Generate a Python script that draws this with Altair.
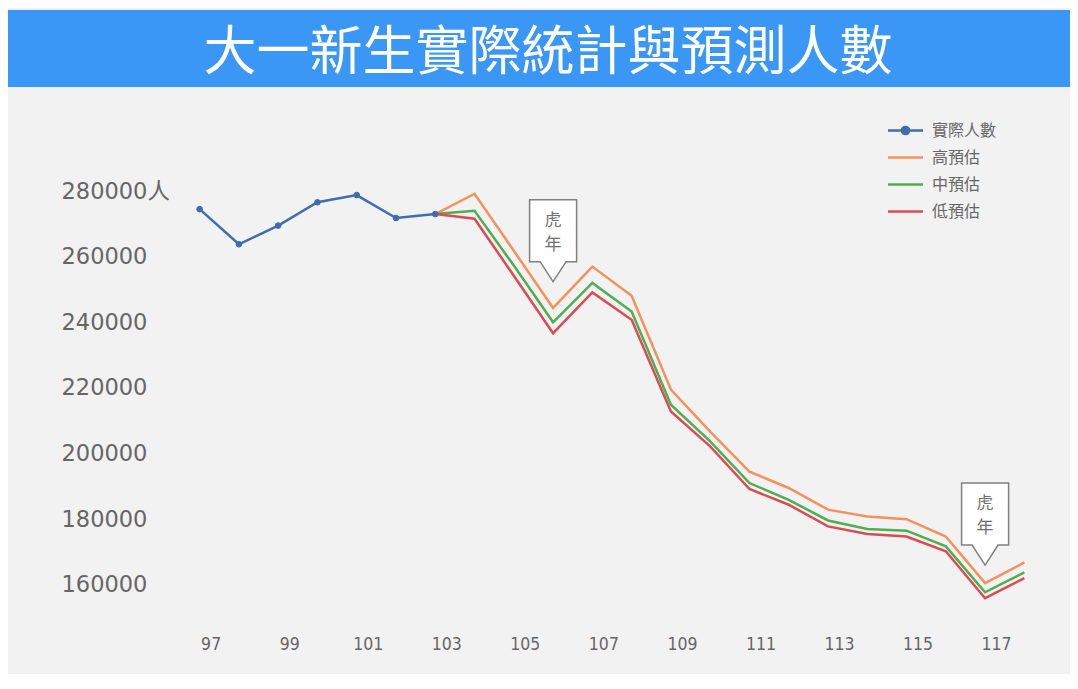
import altair as alt
import pandas as pd

TITLE = "大一新生實際統計與預測人數"
SERIES = ["實際人數", "高預估", "中預估", "低預估"]
COLORS = ["#3E6EB0", "#F5915A", "#4DAF4E", "#DC4B55"]

years_actual = [97, 98, 99, 100, 101, 102, 103]
actual = [274500, 263800, 269500, 276600, 278800, 271800, 273000]

years_fc = [103, 104, 105, 106, 107, 108, 109, 110, 111, 112, 113, 114, 115, 116, 117, 118]
high = [273000, 279200, 261800, 244400, 257000, 248100, 219500, 206700, 194500, 189500, 182900, 180800, 180000, 174700, 160500, 166800]
mid = [273000, 274000, 257300, 240000, 252000, 243300, 214900, 203700, 191000, 185900, 179600, 177000, 176500, 171700, 157700, 163800]
low = [273000, 271600, 254200, 236700, 249100, 240800, 212800, 202200, 189200, 184400, 177800, 175500, 174700, 170200, 155900, 162000]

y_ticks = [160000, 180000, 200000, 220000, 240000, 260000, 280000]
x_ticks = [97, 99, 101, 103, 105, 107, 109, 111, 113, 115, 117]

tiger_year = [106, 117]
tiger_value = [252400, 166000]
tiger_text = ["虎", "年"]

rows = []
for yr, v in zip(years_actual, actual):
    rows.append({"year": yr, "value": v, "series": SERIES[0]})
for name, vals in zip(SERIES[1:], [high, mid, low]):
    for yr, v in zip(years_fc, vals):
        rows.append({"year": yr, "value": v, "series": name})
df = pd.DataFrame(rows)
df_act = pd.DataFrame({"year": years_actual, "value": actual, "series": [SERIES[0]] * len(actual)})
df_tiger = pd.DataFrame({"year": tiger_year, "value": tiger_value})
df_title = pd.DataFrame({"title": [TITLE]})

x_scale = alt.Scale(domain=[96.5, 118.5], nice=False, zero=False)
y_scale = alt.Scale(domain=[152000, 284000], nice=False, zero=False)
x_axis = alt.Axis(values=x_ticks, format="d", title=None, grid=False, domain=False, ticks=False,
                  labelFont="Liberation Sans Narrow, DejaVu Sans Condensed, sans-serif",
                  labelFontSize=17.5, labelColor="#666666", labelPadding=24, labelOffset=11)
y_axis = alt.Axis(values=y_ticks, format="d", title=None, grid=False, domain=False, ticks=False,
                  labelExpr="datum.value == 280000 ? datum.label + '人' : datum.label",
                  labelAlign="left", labelBaseline="middle", labelPadding=119,
                  labelFont="DejaVu Sans, Noto Sans CJK TC", labelFontSize=22.5, labelColor="#666666")

X = alt.X("year:Q", scale=x_scale, axis=x_axis)
Y = alt.Y("value:Q", scale=y_scale, axis=y_axis)

PATH_LINE = "M-1.46,0L1.46,0"
PATH_DOT = "M-1.46,0L1.46,0M-0.3,0A0.3,0.3,0,1,0,0.3,0A0.3,0.3,0,1,0,-0.3,0Z"
CALLOUT = "M0,0L-1.3,-2L-2.35,-2L-2.35,-8.2L2.35,-8.2L2.35,-2L1.3,-2Z"

common_legend = dict(
    title=None, orient="none", legendX=712, symbolSize=576, symbolStrokeWidth=2.5,
    labelFont="Noto Sans CJK TC", labelFontSize=16, labelColor="#666666",
    labelOffset=13, padding=0,
)
legend_fc = alt.Legend(values=SERIES[1:], legendY=-34, rowPadding=5, symbolType=PATH_LINE, **common_legend)
legend_act = alt.Legend(legendY=-61, rowPadding=0, symbolType=PATH_DOT, **common_legend)

banner = alt.Chart(df_title).mark_rect(color="#3A97F5").encode(
    x=alt.value(-172), x2=alt.value(890), y=alt.value(-168), y2=alt.value(-91)
)
title = alt.Chart(df_title).mark_text(
    font="Noto Sans CJK TC", fontSize=53, color="white", align="center", baseline="middle"
).encode(x=alt.value(368), y=alt.value(-124), text="title:N")

lines = alt.Chart(df).mark_line(strokeWidth=2.5).encode(
    x=X, y=Y,
    color=alt.Color("series:N", scale=alt.Scale(domain=SERIES, range=COLORS), legend=legend_fc),
)
points = alt.Chart(df_act).mark_point(
    filled=True, size=32, stroke=COLORS[0], strokeWidth=1, opacity=1
).encode(
    x=X, y=Y,
    fill=alt.Fill("series:N", scale=alt.Scale(domain=SERIES[:1], range=COLORS[:1]), legend=legend_act),
)

callout = alt.Chart(df_tiger).mark_point(
    shape=CALLOUT, size=400, filled=True, fill="white", stroke="#808080", strokeWidth=1.5, opacity=1
).encode(x=X, y=Y)
c1 = alt.Chart(df_tiger).mark_text(text=tiger_text[0], dy=-61, font="Noto Sans CJK TC", fontSize=17,
                                   color="#707070", baseline="middle").encode(x=X, y=Y)
c2 = alt.Chart(df_tiger).mark_text(text=tiger_text[1], dy=-37, font="Noto Sans CJK TC", fontSize=17,
                                   color="#707070", baseline="middle").encode(x=X, y=Y)

chart = alt.layer(banner, title, lines, points, callout, c1, c2).properties(
    width=864, height=433,
    padding={"left": 172, "top": 170, "right": 26, "bottom": 63},
    autosize=alt.AutoSizeParams(type="none"),
).configure(background="#F2F2F2").configure_view(stroke=None)

chart.save("out.html", embed_options={"renderer": "svg", "actions": False})
